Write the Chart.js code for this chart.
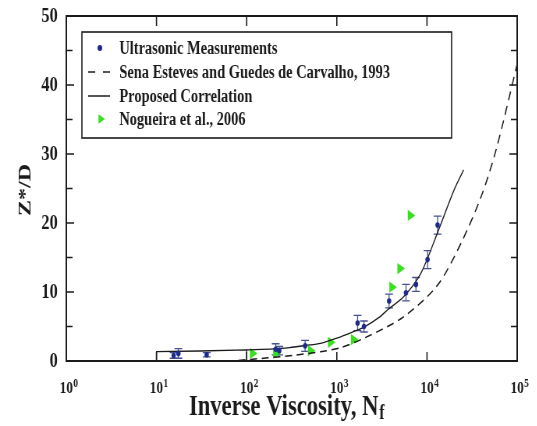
<!DOCTYPE html>
<html>
<head>
<meta charset="utf-8">
<script src="https://cdn.jsdelivr.net/npm/chart.js@4.4.1/dist/chart.umd.min.js"></script>
<style>
  html, body { margin: 0; padding: 0; background: #fff; overflow: hidden; }
  /* the source figure is squeezed sideways, so the whole canvas is too */
  #wrap { width: 688px; height: 426px; transform: scaleX(0.78); transform-origin: 0 0; }
</style>
</head>
<body>
<div id="wrap"><canvas id="chart" width="688" height="426"></canvas></div>
<script>
// Ultrasonic measurements (with error bars)
const measNf  = [15.5, 17.5, 36, 210, 230, 445, 1700, 2000, 3800, 5850, 7550, 10150, 13100];
const measZ   = [0.8, 1.1, 0.9, 1.7, 1.5, 2.2, 5.5, 5.0, 8.7, 9.9, 11.1, 14.7, 19.7];
const measErr = [0.4, 0.7, 0.3, 0.8, 0.6, 0.8, 1.1, 0.8, 1.0, 1.2, 1.0, 1.3, 1.3];

// Nogueira et al., 2006
const nogNf = [116, 210, 510, 850, 1530, 4080, 5010, 6530];
const nogZ  = [1.1, 1.1, 1.5, 2.7, 3.1, 10.7, 13.4, 21.1];

// Sena Esteves and Guedes de Carvalho, 1993
const senaNf = [60, 75, 163, 350, 660, 1080, 2000, 5500, 13100, 23900, 39800, 58400, 100000];
const senaZ  = [0, 0.05, 0.43, 0.87, 1.35, 1.9, 3.3, 6.4, 11.0, 17.1, 23.8, 30.6, 43];

// Proposed correlation: low range block, then the curve
const propLowNf = [10, 10, 30, 100, 100];
const propLowZ  = [0, 1.35, 1.45, 1.6, 0];
const propNf = [100, 200, 300, 450, 660, 1000, 1530, 2000, 3000, 3640, 5500, 8550, 13000, 20000, 25500];
const propZ  = [1.6, 1.75, 1.95, 2.25, 2.55, 3.3, 4.25, 4.9, 6.4, 7.4, 9.3, 12.7, 18.5, 24.8, 27.7];

// axes
const xTickValues = [1, 10, 100, 1000, 10000, 100000];
const xTickExponents = ['0', '1', '2', '3', '4', '5'];
const yTickValues = [0, 10, 20, 30, 40, 50];
const yMinorTicks = [5, 15, 25, 35, 45];

const FONT = "'Liberation Serif', 'Times New Roman', serif";
const INK = '#1b1b1b';
const BLUE = '#1c2a8e';
const GREEN = '#3ae020';

const toXY = (xs, ys) => xs.map((v, i) => ({ x: v, y: ys[i] }));

function triangleRight(ctx, cx, cy, r) {
    ctx.beginPath();
    ctx.moveTo(cx + r, cy);
    ctx.lineTo(cx - r / 2, cy - r * 0.866);
    ctx.lineTo(cx - r / 2, cy + r * 0.866);
    ctx.closePath();
    ctx.fill();
}

// Frame, inward ticks, labels, titles, legend, error bars
const framePlugin = {
    id: 'frame',
    beforeDatasetsDraw(chart) {
        const { ctx, scales: { x, y } } = chart;
        ctx.save();
        ctx.strokeStyle = '#46528f';
        ctx.lineWidth = 1.3;
        measNf.forEach((nf, i) => {
            const px = x.getPixelForValue(nf);
            const top = y.getPixelForValue(measZ[i] + measErr[i]);
            const bot = y.getPixelForValue(Math.max(0, measZ[i] - measErr[i]));
            ctx.beginPath();
            ctx.moveTo(px, top); ctx.lineTo(px, bot);
            ctx.moveTo(px - 5, top); ctx.lineTo(px + 5, top);
            ctx.moveTo(px - 5, bot); ctx.lineTo(px + 5, bot);
            ctx.stroke();
        });
        ctx.restore();
    },
    afterDraw(chart) {
        const { ctx, chartArea: a, scales: { x, y } } = chart;
        ctx.save();
        ctx.strokeStyle = INK;
        ctx.fillStyle = INK;

        // frame
        ctx.lineWidth = 2;
        ctx.strokeRect(a.left, a.top, a.right - a.left, a.bottom - a.top);

        // ticks
        ctx.lineWidth = 1.6;
        ctx.beginPath();
        yTickValues.concat(yMinorTicks).forEach(v => {
            const py = y.getPixelForValue(v);
            const len = v % 10 === 0 ? 10 : 8;
            ctx.moveTo(a.left, py); ctx.lineTo(a.left + len, py);
            ctx.moveTo(a.right, py); ctx.lineTo(a.right - len, py);
        });
        xTickValues.slice(1, -1).forEach(v => {
            const px = x.getPixelForValue(v);
            ctx.moveTo(px, a.bottom); ctx.lineTo(px, a.bottom - 9);
            ctx.moveTo(px, a.top); ctx.lineTo(px, a.top + 10);
        });
        ctx.stroke();

        // y tick labels
        ctx.font = `bold 21px ${FONT}`;
        ctx.textAlign = 'right';
        ctx.textBaseline = 'middle';
        yTickValues.forEach(v => {
            ctx.fillText(String(v), a.left - 11, y.getPixelForValue(v) + 1);
        });

        // x tick labels: 10 with superscript exponent
        ctx.textAlign = 'left';
        ctx.textBaseline = 'alphabetic';
        xTickValues.forEach((v, i) => {
            const px = x.getPixelForValue(v);
            ctx.font = `bold 17px ${FONT}`;
            const w = ctx.measureText('10').width;
            ctx.fillText('10', px - w / 2, a.bottom + 32);
            ctx.font = `bold 12px ${FONT}`;
            ctx.fillText(xTickExponents[i], px + w / 2 + 0.5, a.bottom + 26);
        });

        // x title with subscript f
        const main = 'Inverse Viscosity, N';
        ctx.font = `bold 29px ${FONT}`;
        const mw = ctx.measureText(main).width;
        ctx.font = `bold 20px ${FONT}`;
        const sw = ctx.measureText('f').width;
        const startX = 367 - (mw + sw) / 2;
        ctx.font = `bold 29px ${FONT}`;
        ctx.fillText(main, startX, 415);
        ctx.font = `bold 20px ${FONT}`;
        ctx.fillText('f', startX + mw + 1, 419);

        // y title
        ctx.save();
        ctx.translate(38.5, 190);
        ctx.rotate(-Math.PI / 2);
        ctx.textAlign = 'center';
        ctx.font = `bold 24px ${FONT}`;
        ctx.fillText('Z*/D', 0, 0);
        ctx.restore();

        // legend box
        ctx.lineWidth = 1.6;
        ctx.strokeRect(105, 32, 474, 106);
        const rows = [48, 72, 96, 119];
        const labels = chart.data.datasets.filter(d => d.label).map(d => d.label);
        ctx.font = `bold 18.5px ${FONT}`;
        ctx.textBaseline = 'middle';
        labels.forEach((t, i) => ctx.fillText(t, 153, rows[i] + 1));

        ctx.fillStyle = BLUE;
        ctx.beginPath();
        ctx.arc(128, rows[0], 3, 0, Math.PI * 2);
        ctx.fill();

        ctx.strokeStyle = INK;
        ctx.lineWidth = 1.5;
        ctx.setLineDash([9, 10]);
        ctx.beginPath();
        ctx.moveTo(113, rows[1]); ctx.lineTo(142, rows[1]);
        ctx.stroke();
        ctx.setLineDash([]);
        ctx.beginPath();
        ctx.moveTo(113, rows[2]); ctx.lineTo(141, rows[2]);
        ctx.stroke();

        ctx.fillStyle = GREEN;
        triangleRight(ctx, 129, rows[3], 5.5);

        ctx.restore();
    }
};

const chart = new Chart(document.getElementById('chart'), {
    type: 'scatter',
    data: {
        datasets: [
            {
                label: 'Ultrasonic Measurements',
                data: toXY(measNf, measZ),
                pointStyle: 'circle',
                pointRadius: 2.8,
                backgroundColor: BLUE,
                borderColor: BLUE,
                borderWidth: 0
            },
            {
                label: 'Sena Esteves and Guedes de Carvalho, 1993',
                data: toXY(senaNf, senaZ),
                showLine: true,
                borderColor: INK,
                borderWidth: 1.5,
                borderDash: [9, 6],
                tension: 0.3,
                pointRadius: 0
            },
            {
                label: 'Proposed Correlation',
                data: toXY(propNf, propZ),
                showLine: true,
                borderColor: INK,
                borderWidth: 1.3,
                tension: 0.3,
                pointRadius: 0
            },
            {
                label: 'Nogueira et al., 2006',
                data: toXY(nogNf, nogZ),
                pointStyle: 'triangle',
                rotation: 90,
                pointRadius: 6.5,
                backgroundColor: GREEN,
                borderColor: GREEN,
                borderWidth: 0
            },
            {
                data: toXY(propLowNf, propLowZ),
                showLine: true,
                borderColor: INK,
                borderWidth: 1.3,
                tension: 0,
                pointRadius: 0
            }
        ]
    },
    options: {
        responsive: false,
        animation: false,
        devicePixelRatio: 1,
        layout: { padding: { top: 16, right: 25, left: 0, bottom: 0 } },
        plugins: {
            legend: { display: false },
            tooltip: { enabled: false }
        },
        scales: {
            x: {
                type: 'logarithmic',
                min: 1,
                max: 100000,
                ticks: { display: false },
                grid: { display: false },
                border: { display: false },
                afterFit: s => { s.height = 65; }
            },
            y: {
                min: 0,
                max: 50,
                ticks: { display: false },
                grid: { display: false },
                border: { display: false },
                afterFit: s => { s.width = 85; }
            }
        }
    },
    plugins: [framePlugin]
});
</script>
</body>
</html>
